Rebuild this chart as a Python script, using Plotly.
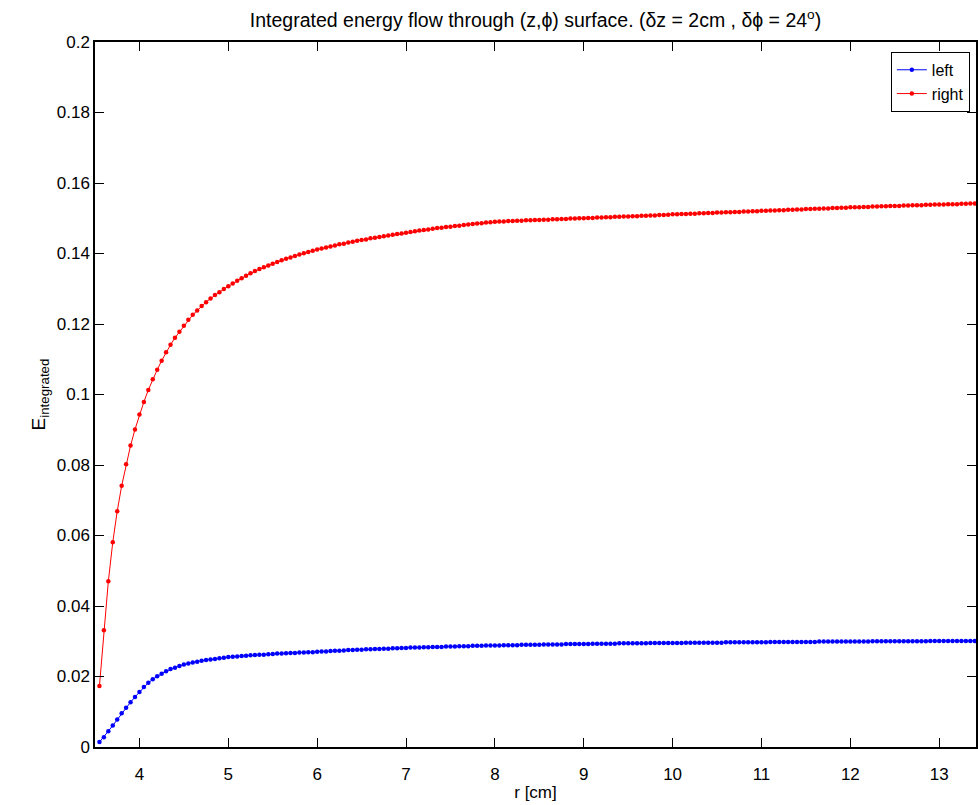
import numpy as np
import plotly.graph_objects as go

# sampling grid of r [cm]
r_start = 3.55
r_step = 0.05
n_points = 200
r = [round(r_start + r_step * i, 2) for i in range(n_points)]

left = [
    0.0014, 0.0028, 0.0045, 0.0061, 0.0078, 0.0096, 0.0111, 0.0127, 0.0142, 0.0156,
    0.0170, 0.0182, 0.0192, 0.0201, 0.0208, 0.0215, 0.0221, 0.0225, 0.0230, 0.0234,
    0.0237, 0.0240, 0.0242, 0.0245, 0.0247, 0.0248, 0.0250, 0.0252, 0.0253, 0.0255,
    0.0256, 0.0257, 0.0258, 0.0259, 0.0260, 0.0261, 0.0262, 0.0262, 0.0263, 0.0264,
    0.0265, 0.0265, 0.0266, 0.0267, 0.0267, 0.0268, 0.0268, 0.0269, 0.0269, 0.0270,
    0.0271, 0.0271, 0.0272, 0.0273, 0.0273, 0.0274, 0.0275, 0.0275, 0.0276, 0.0276,
    0.0277, 0.0277, 0.0278, 0.0278, 0.0279, 0.0279, 0.0280, 0.0280, 0.0281, 0.0281,
    0.0282, 0.0282, 0.0282, 0.0283, 0.0283, 0.0284, 0.0284, 0.0284, 0.0285, 0.0285,
    0.0285, 0.0286, 0.0286, 0.0286, 0.0287, 0.0287, 0.0287, 0.0288, 0.0288, 0.0288,
    0.0288, 0.0289, 0.0289, 0.0289, 0.0289, 0.0290, 0.0290, 0.0290, 0.0290, 0.0290,
    0.0291, 0.0291, 0.0291, 0.0291, 0.0291, 0.0292, 0.0292, 0.0292, 0.0292, 0.0292,
    0.0292, 0.0293, 0.0293, 0.0293, 0.0293, 0.0293, 0.0293, 0.0294, 0.0294, 0.0294,
    0.0294, 0.0294, 0.0294, 0.0294, 0.0295, 0.0295, 0.0295, 0.0295, 0.0295, 0.0295,
    0.0295, 0.0295, 0.0296, 0.0296, 0.0296, 0.0296, 0.0296, 0.0296, 0.0296, 0.0296,
    0.0296, 0.0297, 0.0297, 0.0297, 0.0297, 0.0297, 0.0297, 0.0297, 0.0297, 0.0297,
    0.0297, 0.0298, 0.0298, 0.0298, 0.0298, 0.0298, 0.0298, 0.0298, 0.0298, 0.0298,
    0.0298, 0.0298, 0.0299, 0.0299, 0.0299, 0.0299, 0.0299, 0.0299, 0.0299, 0.0299,
    0.0299, 0.0299, 0.0299, 0.0299, 0.0300, 0.0300, 0.0300, 0.0300, 0.0300, 0.0300,
    0.0300, 0.0300, 0.0300, 0.0300, 0.0300, 0.0300, 0.0300, 0.0301, 0.0301, 0.0301,
    0.0301, 0.0301, 0.0301, 0.0301, 0.0301, 0.0301, 0.0301, 0.0301, 0.0301, 0.0301,
]

right = [
    0.0173, 0.0331, 0.0470, 0.0581, 0.0669, 0.0741, 0.0802, 0.0855, 0.0901, 0.0943,
    0.0979, 0.1013, 0.1043, 0.1070, 0.1096, 0.1120, 0.1141, 0.1161, 0.1178, 0.1195,
    0.1212, 0.1226, 0.1238, 0.1251, 0.1262, 0.1272, 0.1282, 0.1290, 0.1299, 0.1307,
    0.1315, 0.1323, 0.1330, 0.1337, 0.1344, 0.1350, 0.1356, 0.1361, 0.1366, 0.1371,
    0.1376, 0.1381, 0.1385, 0.1389, 0.1393, 0.1397, 0.1401, 0.1404, 0.1408, 0.1411,
    0.1414, 0.1417, 0.1420, 0.1423, 0.1426, 0.1428, 0.1431, 0.1433, 0.1436, 0.1438,
    0.1440, 0.1443, 0.1445, 0.1447, 0.1449, 0.1451, 0.1453, 0.1455, 0.1457, 0.1459,
    0.1461, 0.1463, 0.1465, 0.1467, 0.1468, 0.1470, 0.1472, 0.1473, 0.1475, 0.1476,
    0.1478, 0.1479, 0.1481, 0.1482, 0.1484, 0.1485, 0.1486, 0.1488, 0.1489, 0.1490,
    0.1491, 0.1491, 0.1492, 0.1492, 0.1493, 0.1493, 0.1494, 0.1494, 0.1495, 0.1495,
    0.1496, 0.1496, 0.1497, 0.1497, 0.1498, 0.1498, 0.1499, 0.1499, 0.1500, 0.1500,
    0.1501, 0.1501, 0.1502, 0.1502, 0.1503, 0.1503, 0.1504, 0.1504, 0.1505, 0.1505,
    0.1506, 0.1506, 0.1507, 0.1507, 0.1508, 0.1508, 0.1509, 0.1509, 0.1510, 0.1511,
    0.1511, 0.1512, 0.1512, 0.1513, 0.1513, 0.1514, 0.1514, 0.1515, 0.1515, 0.1516,
    0.1516, 0.1517, 0.1517, 0.1518, 0.1518, 0.1519, 0.1519, 0.1520, 0.1520, 0.1521,
    0.1521, 0.1522, 0.1522, 0.1523, 0.1523, 0.1524, 0.1524, 0.1525, 0.1525, 0.1526,
    0.1526, 0.1527, 0.1527, 0.1528, 0.1528, 0.1529, 0.1529, 0.1530, 0.1530, 0.1531,
    0.1531, 0.1531, 0.1532, 0.1532, 0.1533, 0.1533, 0.1534, 0.1534, 0.1535, 0.1535,
    0.1535, 0.1536, 0.1536, 0.1537, 0.1537, 0.1537, 0.1538, 0.1538, 0.1539, 0.1539,
    0.1539, 0.1540, 0.1540, 0.1540, 0.1541, 0.1541, 0.1542, 0.1542, 0.1542, 0.1543,
]

x_ticks = [4, 5, 6, 7, 8, 9, 10, 11, 12, 13]
y_ticks = [0, 0.02, 0.04, 0.06, 0.08, 0.1, 0.12, 0.14, 0.16, 0.18, 0.2]
y_tick_labels = ["0", "0.02", "0.04", "0.06", "0.08", "0.1", "0.12", "0.14", "0.16", "0.18", "0.2"]

FONT = "Liberation Sans, Arial, Helvetica, sans-serif"

fig = go.Figure()
fig.add_trace(go.Scatter(
    x=r, y=left, name="left", mode="lines+markers",
    line=dict(color="#0000ff", width=1),
    marker=dict(color="#0000ff", size=4.5),
))
fig.add_trace(go.Scatter(
    x=r, y=right, name="right", mode="lines+markers",
    line=dict(color="#ff0000", width=1),
    marker=dict(color="#ff0000", size=4.5),
))

axis_common = dict(
    showline=True, linecolor="black", linewidth=1.5, mirror="ticks",
    ticks="inside", ticklen=9, tickcolor="black", tickwidth=1,
    showgrid=False, zeroline=False,
    tickfont=dict(family=FONT, size=17, color="black"),
)

fig.update_layout(
    width=978, height=805,
    margin=dict(l=95, r=0, t=42, b=58),
    paper_bgcolor="white", plot_bgcolor="white",
    font=dict(family=FONT, size=17, color="black"),
    title=dict(
        text="Integrated energy flow through (z,\u03d5) surface. (\u03b4z = 2cm , \u03b4\u03d5 = 24<sup>o</sup>)",
        x=0.5, xref="paper", xanchor="center",
        y=1 - 20 / 805, yref="container", yanchor="middle",
        font=dict(family=FONT, size=19.5, color="black"),
    ),
    xaxis=dict(
        range=[3.5, 13.414], tickvals=x_ticks,
        ticklabelstandoff=11,
        title=dict(text="r [cm]", standoff=3, font=dict(family=FONT, size=17)),
        **axis_common,
    ),
    yaxis=dict(
        range=[0, 0.2], tickvals=y_ticks, ticktext=y_tick_labels,
        title=dict(text="E<sub>integrated</sub>", standoff=6, font=dict(family=FONT, size=19)),
        **axis_common,
    ),
    legend=dict(
        x=0.993, xanchor="right", y=0.986, yanchor="top",
        bgcolor="white", bordercolor="black", borderwidth=1,
        font=dict(family=FONT, size=16, color="black"),
        tracegroupgap=0, itemwidth=30,
    ),
    showlegend=True,
)

fig.write_html("out.html")
